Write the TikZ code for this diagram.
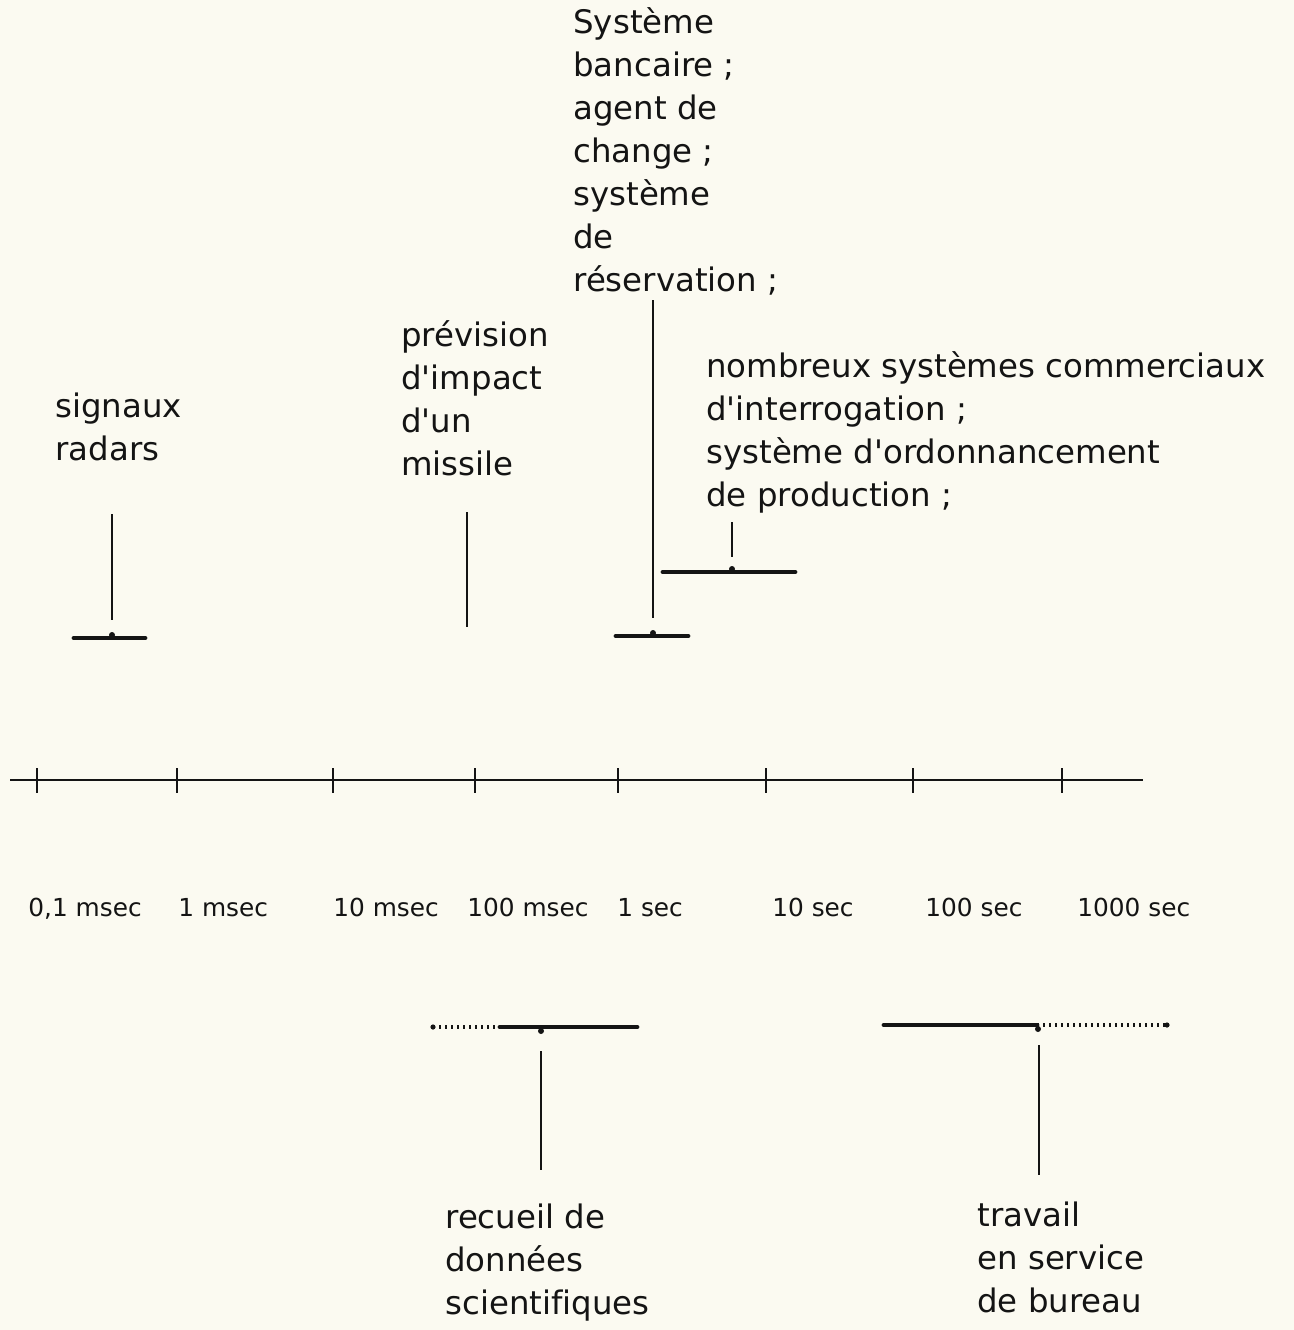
\documentclass[tikz,border=0pt]{standalone}
\usepackage{fontspec}
\setmainfont{DejaVu Sans}[Ligatures={TeXOff,NoCommon}]

\definecolor{paper}{RGB}{251,250,241}
\definecolor{ink}{RGB}{20,20,20}

\tikzset{
  label text/.style={anchor=base west, align=left, inner sep=0pt, text=ink,
    font=\fontsize{16.2}{21.5}\selectfont},
  tick text/.style={anchor=base west, inner sep=0pt, text=ink,
    font=\fontsize{12.4}{14}\selectfont},
  range bar/.style={draw=ink, line width=2.4pt, line cap=round},
  range dots/.style={draw=ink, line width=1.6pt, dash pattern=on 0.9pt off 2.1pt},
  lead line/.style={draw=ink, line width=0.9pt},
  axis line/.style={draw=ink, line width=1pt},
}

\begin{document}
\begin{tikzpicture}[x=0.5pt,y=0.5pt,yscale=-1]
%Background
\fill[paper] (0,0) rectangle (1294,1330);
\useasboundingbox (0,0) rectangle (1294,1330);

%Time axis
\coordinate (axisL) at (10,780);
\coordinate (axisR) at (1143,780);
\draw[axis line] (axisL) -- (axisR);
\foreach \tx/\lx/\txt [count=\i] in {37/28/{0,1 msec}, 177/178/{1 msec}, 333/333/{10 msec},
    475/467/{100 msec}, 618/617/{1 sec}, 766/772/{10 sec}, 913/925/{100 sec}, 1062/1077/{1000 sec}}{
  \coordinate (tick\i) at (\tx,780);
  \draw[axis line] (tick\i) ++(0,-12) -- ++(0,25);
  \node[tick text] (unit\i) at (\lx,916) {\txt};
}

%signaux radars (base = last line)
\node[label text] (radars) at (55,460) {signaux\\radars};
\coordinate (radarsT) at (112,514);
\coordinate (radarsB) at (112,620);
\coordinate (radarsL) at (74,638);
\coordinate (radarsR) at (145,638);
\draw[lead line] (radarsT) -- (radarsB);
\draw[range bar] (radarsL) -- (radarsR);
\fill[ink] (112,635) circle (3);

%missile
\node[label text] (missile) at (401,475) {prévision\\d'impact\\d'un\\missile};
\coordinate (missileT) at (467,512);
\coordinate (missileB) at (467,627);
\draw[lead line] (missileT) -- (missileB);

%banques, reservations
\node[label text] (banque) at (573,291) {Système\\bancaire ;\\agent de\\change ;\\système\\de\\réservation ;};
\coordinate (banqueT) at (653,300);
\coordinate (banqueB) at (653,618);
\coordinate (banqueL) at (616,636);
\coordinate (banqueR) at (688,636);
\draw[lead line] (banqueT) -- (banqueB);
\draw[range bar] (banqueL) -- (banqueR);
\fill[ink] (653,633) circle (3);

%systemes commerciaux
\node[label text] (commerce) at (706,506) {nombreux systèmes commerciaux\\d'interrogation ;\\système d'ordonnancement\\de production ;};
\coordinate (commerceT) at (732,522);
\coordinate (commerceB) at (732,557);
\coordinate (commerceL) at (663,572);
\coordinate (commerceR) at (795,572);
\draw[lead line] (commerceT) -- (commerceB);
\draw[range bar] (commerceL) -- (commerceR);
\fill[ink] (732,569) circle (3);

%donnees scientifiques
\coordinate (scienceL) at (433,1027);
\coordinate (scienceM) at (500,1027);
\coordinate (scienceR) at (637,1027);
\coordinate (scienceT) at (541,1051);
\coordinate (scienceB) at (541,1170);
\draw[range dots] (scienceL) -- (scienceM);
\fill[ink] (scienceL) circle (2.6);
\draw[range bar] (scienceM) -- (scienceR);
\fill[ink] (541,1031) circle (3);
\draw[lead line] (scienceT) -- (scienceB);
\node[label text] (science) at (445,1314) {recueil de\\données\\scientifiques};

%travail de bureau
\coordinate (bureauL) at (884,1025);
\coordinate (bureauM) at (1037,1025);
\coordinate (bureauR) at (1167,1025);
\coordinate (bureauT) at (1039,1045);
\coordinate (bureauB) at (1039,1175);
\draw[range bar] (bureauL) -- (bureauM);
\draw[range dots] (bureauM) -- (bureauR);
\fill[ink] (bureauR) circle (2.6);
\fill[ink] (1038,1029) circle (3);
\draw[lead line] (bureauT) -- (bureauB);
\node[label text] (bureau) at (977,1312) {travail\\en service\\de bureau};
\end{tikzpicture}
\end{document}
